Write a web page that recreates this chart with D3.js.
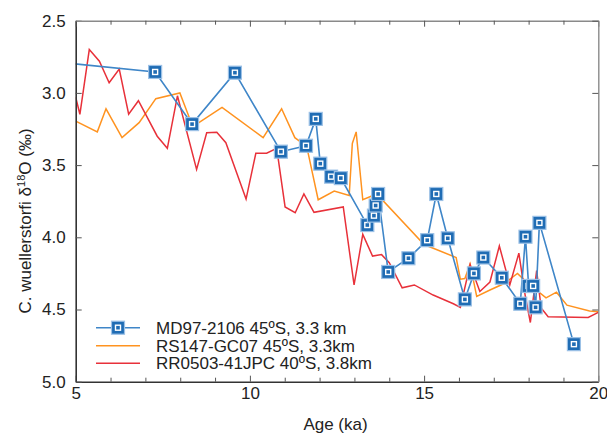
<!DOCTYPE html>
<html>
<head>
<meta charset="utf-8">
<script src="https://cdn.jsdelivr.net/npm/d3@7"></script>
<style>
  body { margin: 0; background: #fff; }
  svg { display: block; font-family: "Liberation Sans", Arial, sans-serif; }
</style>
</head>
<body>
<svg id="chart" width="607" height="434"></svg>
<script>
// MD97-2106 (blue squares)
const blueAge = [4.6, 7.28, 8.34, 9.57, 10.89, 11.61, 11.89, 12.02, 12.33, 12.61, 13.37, 13.56, 13.61, 13.68, 13.97, 14.55, 15.09, 15.35, 15.68, 16.17, 16.43, 16.70, 17.23, 17.76, 17.91, 18.00, 18.13, 18.20, 18.31, 19.30];
const blueVal = [2.79, 2.855, 3.216, 2.86, 3.407, 3.366, 3.18, 3.49, 3.58, 3.59, 3.915, 3.85, 3.78, 3.70, 4.24, 4.145, 4.02, 3.70, 4.007, 4.43, 4.25, 4.14, 4.28, 4.46, 3.996, 4.337, 4.337, 4.485, 3.90, 4.74];

// RS147-GC07 (orange)
const orangeAge = [5.0, 5.62, 5.87, 6.33, 6.82, 7.30, 7.99, 8.36, 9.20, 10.38, 10.91, 11.29, 11.63, 11.96, 12.42, 12.85, 12.94, 13.05, 13.24, 13.64, 15.0, 15.92, 16.04, 16.17, 16.32, 16.51, 16.89, 17.30, 17.68, 17.94, 18.50, 18.80, 19.10, 19.75, 20.0];
const orangeVal = [3.195, 3.27, 3.11, 3.31, 3.206, 3.04, 3.00, 3.234, 3.10, 3.31, 3.11, 3.31, 3.37, 3.74, 3.68, 3.71, 3.35, 3.27, 3.74, 3.70, 4.05, 4.14, 4.29, 4.285, 4.185, 4.41, 4.365, 4.32, 4.25, 4.31, 4.42, 4.38, 4.47, 4.51, 4.515];

// RR0503-41JPC (red)
const redAge = [5.0, 5.12, 5.39, 5.68, 5.96, 6.25, 6.52, 6.80, 7.34, 7.63, 7.92, 8.47, 8.76, 9.05, 9.31, 9.89, 10.17, 10.48, 10.77, 11.01, 11.30, 11.55, 11.84, 12.68, 12.99, 13.24, 13.52, 13.78, 14.0, 14.37, 14.72, 15.26, 15.84, 16.04, 16.32, 16.60, 16.89, 17.16, 17.46, 17.72, 17.90, 18.05, 18.23, 18.36, 18.56, 19.71, 20.0];
const redVal = [3.03, 3.148, 2.70, 2.78, 2.93, 2.835, 3.148, 3.054, 3.30, 3.384, 3.02, 3.53, 3.276, 3.273, 3.345, 3.735, 3.418, 3.418, 3.384, 3.79, 3.83, 3.70, 3.827, 3.79, 4.33, 3.98, 4.13, 4.12, 4.176, 4.35, 4.33, 4.40, 4.46, 4.485, 4.19, 4.375, 4.31, 4.06, 4.33, 4.11, 4.40, 4.59, 4.23, 4.49, 4.55, 4.555, 4.52];

const xMajor = [5, 10, 15, 20];
const xMinor = d3.range(5, 21, 1);
const yTicks = [2.5, 3.0, 3.5, 4.0, 4.5, 5.0];

const legendLabels = ["MD97-2106 45ºS, 3.3 km", "RS147-GC07 45ºS, 3.3km", "RR0503-41JPC 40ºS, 3.8km"];

const blueCol = "#3f86c8";
const markCol = "#1f6cb4";
const orangeCol = "#ff9320";
const redCol = "#e8313a";

const plotL = 75.7, plotR = 598.3, plotT = 20.7, plotB = 381.7;

const svg = d3.select("#chart");

const x = d3.scaleLinear().domain([5, 20]).range([plotL, plotR]);
const y = d3.scaleLinear().domain([2.5, 5]).range([plotT, plotB]);

svg.append("defs").append("clipPath").attr("id", "plotclip")
  .append("rect")
  .attr("x", plotL).attr("y", plotT)
  .attr("width", plotR - plotL).attr("height", plotB - plotT);

const plot = svg.append("g").attr("clip-path", "url(#plotclip)");

const line = d3.line().x(d => x(d[0])).y(d => y(d[1]));
const zip = (a, b) => a.map((v, i) => [v, b[i]]);

plot.append("path").datum(zip(orangeAge, orangeVal))
  .attr("d", line).attr("fill", "none")
  .attr("stroke", orangeCol).attr("stroke-width", 1.5);

plot.append("path").datum(zip(redAge, redVal))
  .attr("d", line).attr("fill", "none")
  .attr("stroke", redCol).attr("stroke-width", 1.5);

plot.append("path").datum(zip(blueAge, blueVal))
  .attr("d", line).attr("fill", "none")
  .attr("stroke", blueCol).attr("stroke-width", 1.6);

function drawMarker(g, cx, cy) {
  g.append("rect")
    .attr("x", cx - 6.5).attr("y", cy - 6.5)
    .attr("width", 13).attr("height", 13)
    .attr("fill", markCol)
    .attr("stroke", "#9cc1e6").attr("stroke-width", 1.2);
  g.append("rect")
    .attr("x", cx - 2.5).attr("y", cy - 2.5)
    .attr("width", 5).attr("height", 5)
    .attr("fill", "none")
    .attr("stroke", "#fff").attr("stroke-width", 1.4);
}

zip(blueAge, blueVal).forEach(d => drawMarker(plot, x(d[0]), y(d[1])));

// axes, ticks pointing inward
const axisCol = "#333";
const frameCol = "#8a8a8a";

const gBottom = svg.append("g").attr("transform", `translate(0,${plotB})`)
  .call(d3.axisBottom(x).tickValues(xMajor).tickSize(-6).tickSizeOuter(0).tickPadding(5).tickFormat(d3.format("d")));
svg.append("g").attr("transform", `translate(0,${plotB})`)
  .call(d3.axisBottom(x).tickValues(xMinor.filter(v => !xMajor.includes(v))).tickSize(-4).tickSizeOuter(0).tickFormat(""))
  .call(g => g.select(".domain").remove());

const gLeft = svg.append("g").attr("transform", `translate(${plotL},0)`)
  .call(d3.axisLeft(y).tickValues(yTicks).tickSize(-6).tickSizeOuter(0).tickPadding(10).tickFormat(d3.format(".1f")));

const gTop = svg.append("g").attr("transform", `translate(0,${plotT})`)
  .call(d3.axisTop(x).tickValues(xMajor).tickSize(-6).tickSizeOuter(0).tickFormat(""));
svg.append("g").attr("transform", `translate(0,${plotT})`)
  .call(d3.axisTop(x).tickValues(xMinor.filter(v => !xMajor.includes(v))).tickSize(-4).tickSizeOuter(0).tickFormat(""))
  .call(g => g.select(".domain").remove());

const gRight = svg.append("g").attr("transform", `translate(${plotR},0)`)
  .call(d3.axisRight(y).tickValues(yTicks).tickSize(-6).tickSizeOuter(0).tickFormat(""));

svg.selectAll(".tick line").attr("stroke", "#555");
[gBottom, gLeft].forEach(g => {
  g.select(".domain").attr("stroke", axisCol).attr("stroke-width", 1.6);
  g.selectAll(".tick text").attr("fill", "#222").style("font-size", "17px")
    .style("font-family", "'Liberation Sans', Arial, sans-serif");
});
[gTop, gRight].forEach(g => {
  g.select(".domain").attr("stroke", frameCol).attr("stroke-width", 1.4);
});

// axis titles
svg.append("text")
  .attr("x", 335.5).attr("y", 430)
  .attr("text-anchor", "middle")
  .style("font-size", "17px").attr("fill", "#222")
  .text("Age (ka)");

const yl = svg.append("text")
  .attr("transform", "translate(31,221) rotate(-90)")
  .attr("text-anchor", "middle")
  .style("font-size", "17px").attr("fill", "#222");
yl.append("tspan").text("C. wuellerstorfi δ");
yl.append("tspan").attr("dy", -6).style("font-size", "11px").text("18");
yl.append("tspan").attr("dy", 6).text("O (‰)");

// legend
const legY = [327.7, 345.7, 363.3];
const legCols = [blueCol, orangeCol, redCol];
const leg = svg.append("g");
legendLabels.forEach((lab, i) => {
  leg.append("line")
    .attr("x1", 96).attr("x2", 140)
    .attr("y1", legY[i]).attr("y2", legY[i])
    .attr("stroke", legCols[i]).attr("stroke-width", 1.5);
  if (i === 0) drawMarker(leg, 118, legY[i]);
  leg.append("text")
    .attr("x", 156).attr("y", legY[i] + 6)
    .style("font-size", "17px").attr("fill", "#222")
    .text(lab);
});
</script>
</body>
</html>
